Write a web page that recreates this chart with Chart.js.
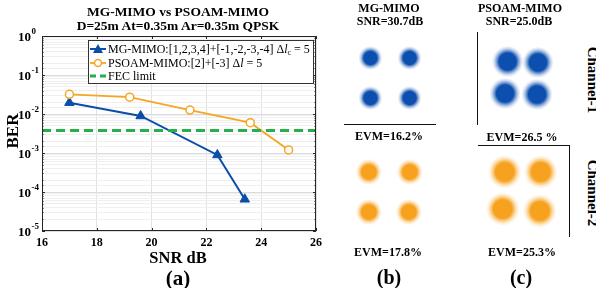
<!DOCTYPE html>
<html><head><meta charset="utf-8">
<script src="https://cdn.jsdelivr.net/npm/chart.js@4.4.1/dist/chart.umd.min.js"></script>
<style>
html,body{margin:0;padding:0;background:#fff;}
body{width:596px;height:288px;position:relative;overflow:hidden;font-family:"Liberation Serif","Times New Roman",serif;}
.t{position:absolute;transform:translate(-50%,-50%);white-space:nowrap;font-weight:bold;color:#000;line-height:1;}
.ln{position:absolute;background:#111;}
canvas{position:absolute;}
.leg{position:absolute;left:88px;top:40px;width:224px;height:42px;border:1px solid #333;background:#fff;font-size:12px;}
.row{position:absolute;left:1px;height:12px;white-space:nowrap;line-height:12px;}
.row svg{position:absolute;left:0;top:1px;}
.row span{position:absolute;left:18px;top:0;}
sub{font-size:8px;vertical-align:-2px;line-height:0;}
</style></head><body>

<!-- left chart -->
<canvas id="ber" width="330" height="288" style="left:0;top:0"></canvas>
<div class="t" style="left:178px;top:12px;font-size:13.5px">MG-MIMO vs PSOAM-MIMO</div>
<div class="t" style="left:178px;top:26px;font-size:13.5px">D=25m At=0.35m Ar=0.35m QPSK</div>
<div class="t" style="left:12px;top:131px;font-size:17px;transform:translate(-50%,-50%) rotate(-90deg)">BER</div>
<div class="t" style="left:178px;top:258px;font-size:16.5px">SNR dB</div>
<div class="t" style="left:178px;top:278px;font-size:21px">(a)</div>

<div class="leg">
  <div class="row" style="top:2px">
    <svg width="17" height="10"><line x1="0" y1="5" x2="16" y2="5" stroke="#0b4ea8" stroke-width="2"/><polygon points="8,0 13,9 3,9" fill="#0b4ea8"/></svg>
    <span>MG-MIMO:[1,2,3,4]+[-1,-2,-3,-4] Δ<i>l</i><sub>c</sub> = 5</span>
  </div>
  <div class="row" style="top:16px">
    <svg width="17" height="10"><line x1="0" y1="5" x2="16" y2="5" stroke="#f5a623" stroke-width="1.8"/><circle cx="8" cy="5" r="3.5" fill="#fff" stroke="#f5a623" stroke-width="1.5"/></svg>
    <span>PSOAM-MIMO:[2]+[-3] Δ<i>l</i> = 5</span>
  </div>
  <div class="row" style="top:29px">
    <svg width="17" height="10"><line x1="0" y1="5" x2="16" y2="5" stroke="#25b04a" stroke-width="3" stroke-dasharray="6,4"/></svg>
    <span>FEC limit</span>
  </div>
</div>

<!-- right constellation panels -->
<canvas id="c1" width="110" height="110"></canvas>
<canvas id="c2" width="110" height="110"></canvas>
<canvas id="c3" width="110" height="110"></canvas>
<canvas id="c4" width="110" height="110"></canvas>

<div class="t" style="left:389px;top:8px;font-size:12px">MG-MIMO</div>
<div class="t" style="left:390px;top:21px;font-size:12px">SNR=30.7dB</div>
<div class="t" style="left:520px;top:8px;font-size:12px">PSOAM-MIMO</div>
<div class="t" style="left:519px;top:21px;font-size:12px">SNR=25.0dB</div>
<div class="t" style="left:389px;top:136px;font-size:12px">EVM=16.2%</div>
<div class="t" style="left:522px;top:137px;font-size:12px">EVM=26.5 %</div>
<div class="t" style="left:388px;top:252px;font-size:12px">EVM=17.8%</div>
<div class="t" style="left:522px;top:252px;font-size:12px">EVM=25.3%</div>
<div class="t" style="left:389px;top:277px;font-size:20px">(b)</div>
<div class="t" style="left:521px;top:277px;font-size:20px">(c)</div>
<div class="t" style="left:592px;top:80px;font-size:15px;transform:translate(-50%,-50%) rotate(90deg)">Channel-1</div>
<div class="t" style="left:592px;top:193px;font-size:15px;transform:translate(-50%,-50%) rotate(90deg)">Channel-2</div>

<div class="ln" style="left:344px;top:124px;width:92px;height:1px"></div>
<div class="ln" style="left:477px;top:32px;width:1px;height:93px"></div>
<div class="ln" style="left:478px;top:145px;width:91px;height:1px"></div>
<div class="ln" style="left:569px;top:145px;width:1px;height:92px"></div>

<script>
// ---------- data ----------
const snrMG = [17.0, 19.6, 22.4, 23.4];
const berMG = [0.0195, 0.0089, 0.00089, 0.000065];
const snrPS = [17.0, 19.2, 21.4, 23.6, 25.0];
const berPS = [0.032, 0.027, 0.0126, 0.0060, 0.0012];
const fecLimit = 0.0038;
const snrRange = [16, 26];
const yDecades = [0, -1, -2, -3, -4, -5];

// constellation cluster centres (I/Q) and EVM (%)
const mgCh1I = [-0.98, 0.98, -0.98, 0.98];
const mgCh1Q = [1.0, 1.0, -1.0, -1.0];
const psCh1I = [-0.9, 1.0, -1.06, 0.94];
const psCh1Q = [1.03, 0.97, -0.97, -1.03];
const mgCh2I = [-1.01, 1.04, -1.01, 0.99];
const mgCh2Q = [1.0, 1.0, -1.0, -1.0];
const psCh2I = [-0.96, 1.04, -1.07, 0.99];
const psCh2Q = [1.06, 1.06, -1.0, -1.11];
const evmCh1 = [16.2, 26.5];
const evmCh2 = [17.8, 25.3];

const SERIF = '"Liberation Serif","Times New Roman",serif';
const BLUE = '#0b4ea8', ORANGE = '#f5a623', GREEN = '#25b04a';

// ---------- BER chart ----------
const pts = (xs, ys) => xs.map((x, i) => ({x, y: ys[i]}));
const isMajorLog = v => Math.abs(Math.log10(v) - Math.round(Math.log10(v))) < 1e-6;

const boxPlugin = {
  id: 'box',
  afterDraw(chart) {
    const {ctx, chartArea: a, scales: {x, y}} = chart;
    ctx.save();
    ctx.strokeStyle = '#262626';
    ctx.lineWidth = 1;
    ctx.strokeRect(a.left + 0.5, a.top + 0.5, a.right - a.left - 1, a.bottom - a.top - 1);
    ctx.beginPath();
    x.ticks.forEach(t => {
      const px = Math.round(x.getPixelForValue(t.value)) + 0.5;
      ctx.moveTo(px, a.bottom); ctx.lineTo(px, a.bottom - 3);
      ctx.moveTo(px, a.top); ctx.lineTo(px, a.top + 3);
    });
    y.ticks.forEach(t => {
      const py = Math.round(y.getPixelForValue(t.value)) + 0.5;
      const len = isMajorLog(t.value) ? 3 : 1.5;
      ctx.moveTo(a.left, py); ctx.lineTo(a.left + len, py);
      ctx.moveTo(a.right, py); ctx.lineTo(a.right - len, py);
    });
    ctx.stroke();
    // y tick labels 10^e
    ctx.fillStyle = '#000';
    ctx.textAlign = 'left';
    ctx.textBaseline = 'middle';
    yDecades.forEach(e => {
      const py = y.getPixelForValue(Math.pow(10, e));
      ctx.font = 'bold 13px ' + SERIF;
      ctx.fillText('10', 18, py + 1.5);
      const w = ctx.measureText('10').width;
      ctx.font = 'bold 9px ' + SERIF;
      ctx.fillText(String(e), 18 + w + 0.5, py - 4.5);
    });
    ctx.restore();
  }
};

new Chart(document.getElementById('ber'), {
  type: 'line',
  data: {
    datasets: [
      {label: 'MG-MIMO', data: pts(snrMG, berMG), borderColor: BLUE, backgroundColor: BLUE,
       borderWidth: 2, pointStyle: 'triangle', pointRadius: 5.5, pointBorderWidth: 1, order: 2},
      {label: 'PSOAM-MIMO', data: pts(snrPS, berPS), borderColor: ORANGE, backgroundColor: '#fff',
       borderWidth: 1.8, pointStyle: 'circle', pointRadius: 4, pointBorderWidth: 1.5, order: 1},
      {label: 'FEC limit', data: [{x: snrRange[0], y: fecLimit}, {x: snrRange[1], y: fecLimit}],
       borderColor: GREEN, borderWidth: 3, borderDash: [9, 5], pointRadius: 0, order: 0}
    ]
  },
  options: {
    responsive: false, animation: false,
    layout: {padding: {left: 0, top: 36, right: 14, bottom: 0}},
    plugins: {legend: {display: false}, tooltip: {enabled: false}},
    scales: {
      x: {
        type: 'linear', min: snrRange[0], max: snrRange[1],
        border: {display: false},
        grid: {color: '#e2e2e2', drawTicks: false},
        ticks: {stepSize: 2, color: '#000', padding: 5, font: {family: SERIF, size: 12, weight: 'bold'}},
        afterFit: s => { s.height = 57; }
      },
      y: {
        type: 'logarithmic', min: 1e-5, max: 1,
        border: {display: false},
        grid: {drawTicks: false, color: c => isMajorLog(c.tick.value) ? '#dcdcdc' : '#efefef'},
        ticks: {display: false},
        afterFit: s => { s.width = 42; }
      }
    }
  },
  plugins: [boxPlugin]
});

// ---------- constellations ----------
const K = 3.7; // cloud radius in units of sigma
function cloudRadius(ctx) {
  const ch = ctx.chart;
  const unit = Math.abs(ch.scales.x.getPixelForValue(1) - ch.scales.x.getPixelForValue(0));
  return K * ctx.dataset.evm / 100 * unit;
}
function hexA(hex, a) {
  const n = parseInt(hex.slice(1), 16);
  return `rgba(${n >> 16},${(n >> 8) & 255},${n & 255},${a})`;
}
function cloudFill(ctx) {
  const ch = ctx.chart, ds = ctx.dataset, raw = ctx.raw;
  if (!ch.chartArea || !raw) return ds.baseColor;
  const x = ch.scales.x.getPixelForValue(raw.x), y = ch.scales.y.getPixelForValue(raw.y);
  const r = cloudRadius(ctx);
  const g = ch.ctx.createRadialGradient(x, y, 0, x, y, r);
  g.addColorStop(0, hexA(ds.baseColor, 1));
  g.addColorStop(0.55, hexA(ds.baseColor, 1));
  g.addColorStop(0.68, hexA(ds.baseColor, 0.6));
  g.addColorStop(0.84, hexA(ds.baseColor, 0.2));
  g.addColorStop(1, hexA(ds.baseColor, 0));
  return g;
}

const panels = [
  {id: 'c1', cx: 389.5, cy: 78, unit: 20, I: mgCh1I, Q: mgCh1Q, evm: evmCh1[0], color: '#0d4fae'},
  {id: 'c2', cx: 522, cy: 77.5, unit: 16, I: psCh1I, Q: psCh1Q, evm: evmCh1[1], color: '#0d4fae'},
  {id: 'c3', cx: 389.25, cy: 192, unit: 20, I: mgCh2I, Q: mgCh2Q, evm: evmCh2[0], color: '#f7a21e'},
  {id: 'c4', cx: 522.25, cy: 191, unit: 18, I: psCh2I, Q: psCh2Q, evm: evmCh2[1], color: '#f7a21e'}
];

panels.forEach(p => {
  const el = document.getElementById(p.id);
  el.style.left = (p.cx - 55) + 'px';
  el.style.top = (p.cy - 55) + 'px';
  const half = 55 / p.unit;
  new Chart(el, {
    type: 'scatter',
    data: {datasets: [{
      data: pts(p.I, p.Q), evm: p.evm, baseColor: p.color,
      pointRadius: cloudRadius, pointBackgroundColor: cloudFill, pointBorderWidth: 0
    }]},
    options: {
      responsive: false, animation: false,
      layout: {padding: 0},
      plugins: {legend: {display: false}, tooltip: {enabled: false}},
      scales: {
        x: {display: false, min: -half, max: half},
        y: {display: false, min: -half, max: half}
      }
    }
  });
});
</script>
</body></html>
